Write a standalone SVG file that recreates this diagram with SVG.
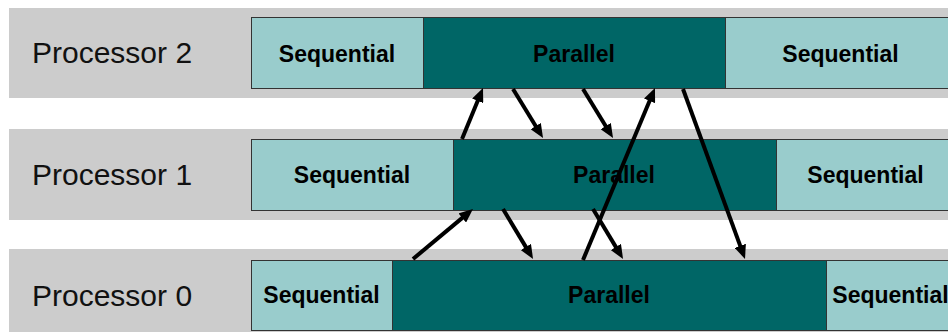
<svg xmlns="http://www.w3.org/2000/svg" width="948" height="332" viewBox="0 0 948 332">
  <style>
    .band { fill: #cccccc; }
    .seq { fill: #99cccc; stroke: #333333; stroke-width: 1; }
    .par { fill: #006666; stroke: #333333; stroke-width: 1; }
    .proc { font-family: "Liberation Sans", Arial, sans-serif; font-size: 30px; fill: #111111; }
    .lbl { font-family: "Liberation Sans", Arial, sans-serif; font-size: 23px; font-weight: bold; fill: #000000; text-anchor: middle; }
    .msg { stroke: #000000; stroke-width: 4; fill: none; marker-end: url(#head); }
  </style>
  <defs>
    <marker id="head" markerUnits="userSpaceOnUse" viewBox="0 0 14 12" markerWidth="14" markerHeight="12" refX="4" refY="6" orient="auto">
      <path d="M0,0 L14,6 L0,12 Z" fill="#000000"/>
    </marker>
  </defs>
  <rect width="948" height="332" fill="#ffffff"/>

  <!-- Processor 2 -->
  <g id="proc2">
    <rect class="band" x="9" y="8" width="950" height="90"/>
    <text class="proc" x="32" y="63">Processor 2</text>
    <rect class="seq" x="251.5" y="17.5" width="172" height="71"/>
    <rect class="par" x="423.5" y="17.5" width="302" height="71"/>
    <rect class="seq" x="725.5" y="17.5" width="230" height="71"/>
    <text class="lbl" x="337" y="62">Sequential</text>
    <text class="lbl" x="574" y="62">Parallel</text>
    <text class="lbl" x="840.5" y="62">Sequential</text>
  </g>

  <!-- Processor 1 -->
  <g id="proc1">
    <rect class="band" x="9" y="129" width="950" height="91"/>
    <text class="proc" x="32" y="185">Processor 1</text>
    <rect class="seq" x="251.5" y="139.5" width="202" height="71"/>
    <rect class="par" x="453.5" y="139.5" width="323" height="71"/>
    <rect class="seq" x="776.5" y="139.5" width="180" height="71"/>
    <text class="lbl" x="352" y="183">Sequential</text>
    <text class="lbl" x="614" y="183">Parallel</text>
    <text class="lbl" x="865.5" y="183">Sequential</text>
  </g>

  <!-- Processor 0 -->
  <g id="proc0">
    <rect class="band" x="9" y="249" width="950" height="100"/>
    <text class="proc" x="32" y="306">Processor 0</text>
    <rect class="seq" x="251.5" y="260.5" width="141" height="70"/>
    <rect class="par" x="392.5" y="260.5" width="434" height="70"/>
    <rect class="seq" x="826.5" y="260.5" width="130" height="70"/>
    <text class="lbl" x="321.5" y="303">Sequential</text>
    <text class="lbl" x="609" y="303">Parallel</text>
    <text class="lbl" x="890.5" y="303">Sequential</text>
  </g>

  <!-- messages between processors -->
  <g id="connectors">
    <line class="msg" x1="462" y1="139" x2="479.2" y2="97.2"/>
    <line class="msg" x1="513" y1="89" x2="537.8" y2="129.5"/>
    <line class="msg" x1="583" y1="89" x2="607.8" y2="129.5"/>
    <line class="msg" x1="583" y1="260" x2="651.1" y2="97.2"/>
    <line class="msg" x1="683" y1="89" x2="741.6" y2="249.6"/>
    <line class="msg" x1="413" y1="259" x2="465.3" y2="215.4"/>
    <line class="msg" x1="503" y1="209" x2="527.9" y2="250.4"/>
    <line class="msg" x1="593" y1="209" x2="617.9" y2="250.4"/>
  </g>
</svg>
